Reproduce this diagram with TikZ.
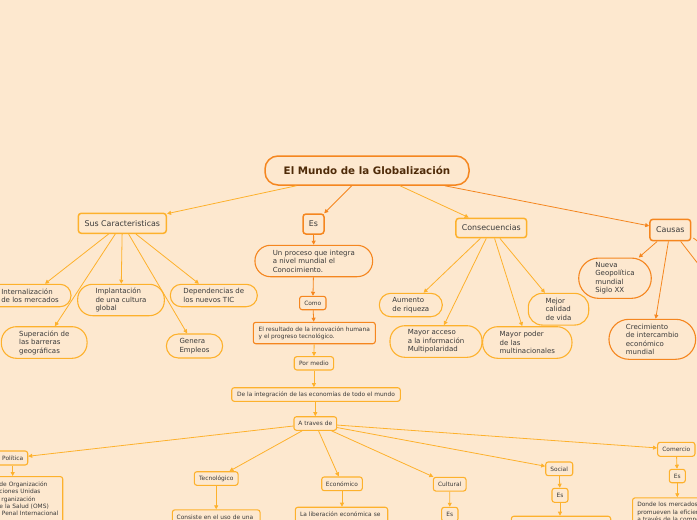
\documentclass[tikz,border=0pt]{standalone}
\usepackage{fontspec}
\setmainfont{DejaVu Sans}
\usetikzlibrary{arrows.meta,calc}
\definecolor{bg}{HTML}{FDE8CF}
\definecolor{amb}{HTML}{FDB12C}
\definecolor{dor}{HTML}{F5861F}
\definecolor{txt}{HTML}{3A3A3A}
\definecolor{ttl}{HTML}{4E2A08}
\begin{document}
\begin{tikzpicture}[x=1pt,y=-1pt,
  basebox/.style={draw, fill=bg, text=txt, inner sep=0pt, align=center},
  ttlbox/.style={basebox, draw=dor, line width=1.5pt, rounded corners=13pt, text=ttl,
    font=\bfseries\fontsize{10.3}{12}\selectfont},
  topbox/.style={basebox, draw=#1, line width=1.5pt, rounded corners=3pt,
    font=\fontsize{7.9}{9.5}\selectfont},
  pillbox/.style={basebox, draw=#1, line width=1.1pt, align=left,
    font=\fontsize{7}{8.5}\selectfont},
  smbox/.style={basebox, draw=#1, line width=1.1pt, rounded corners=2.5pt,
    font=\fontsize{5.9}{7.4}\selectfont},
  ea/.style={draw=amb, line width=0.8pt, -{Triangle[length=4pt,width=4pt]}},
  ed/.style={draw=dor, line width=0.8pt, -{Triangle[length=4pt,width=4pt]}}
]
\path[use as bounding box, fill=bg] (0,0) rectangle (697,520);

% title and first level
\node[ttlbox, minimum width=204, minimum height=29] (title) at (367,170.5) {El Mundo de la Globalización};
\node[topbox=amb, minimum width=88, minimum height=20] (sus) at (122.3,223.3) {Sus Caracteristicas};
\node[topbox=dor, minimum width=21, minimum height=20] (es) at (313.5,224) {Es};
\node[topbox=amb, minimum width=70.7, minimum height=19.4] (cons) at (491.3,228) {Consecuencias};
\node[topbox=dor, minimum width=40.7, minimum height=21.4] (causas) at (670.3,230) {Causas};

% Sus Caracteristicas children
\node[pillbox=amb, rounded corners=11pt, minimum width=82, minimum height=22.4] (int) at (30,295.5) {Internalización\\de los mercados};
\node[pillbox=amb, rounded corners=15pt, minimum width=86.7, minimum height=31.4] (impl) at (121,300) {Implantación\\de una cultura\\global};
\node[pillbox=amb, rounded corners=11pt, minimum width=87, minimum height=22.4] (dep) at (213.8,295.5) {Dependencias de\\los nuevos TIC};
\node[pillbox=amb, rounded corners=15pt, minimum width=85.7, minimum height=31.6] (sup) at (44.2,342.5) {Superación de\\las barreras\\geográficas};
\node[pillbox=amb, rounded corners=12pt, minimum width=56.3, minimum height=24] (gen) at (194.5,346) {Genera\\Empleos};

% Consecuencias children
\node[pillbox=amb, rounded corners=11.5pt, minimum width=63, minimum height=23.4] (aum) at (410.8,305) {Aumento\\de riqueza};
\node[pillbox=amb, rounded corners=14pt, minimum width=60.4, minimum height=31.7] (mej) at (558.5,309.2) {Mejor\\calidad\\de vida};
\node[pillbox=amb, rounded corners=15pt, minimum width=92, minimum height=31.6] (macc) at (436,341.5) {Mayor acceso\\a la información\\Multipolaridad};
\node[pillbox=amb, rounded corners=15pt, minimum width=89.3, minimum height=31.6] (mpod) at (527.3,342.5) {Mayor poder\\de las\\multinacionales};

% Causas children
\node[pillbox=dor, rounded corners=20pt, minimum width=72.6, minimum height=40.3] (nueva) at (615,278.2) {Nueva\\Geopolítica\\mundial\\Siglo XX};
\node[pillbox=dor, rounded corners=20pt, minimum width=86.7, minimum height=40] (crec) at (652.3,339.3) {Crecimiento\\de intercambio\\económico\\mundial};
\coordinate (c3) at (730,305);
\coordinate (c4) at (730,266);

% Es chain
\node[pillbox=dor, rounded corners=15.5pt, minimum width=117.7, minimum height=31.4] (unproc) at (313.8,261) {Un proceso que integra\\a nivel mundial el\\Conocimiento.};
\node[smbox=dor, minimum width=26.4, minimum height=13.4] (como) at (312.8,303) {Como};
\node[smbox=dor, minimum width=122, minimum height=21.4, align=left] (result) at (314.3,333) {El resultado de la innovación humana\\y el progreso tecnológico.};
\node[smbox=amb, minimum width=39.3, minimum height=13.3] (pormedio) at (313.9,363.3) {Por medio};
\node[smbox=amb, minimum width=168.6, minimum height=13.6] (integ) at (316,394.5) {De la integración de las economías de todo el mundo};
\node[smbox=amb, minimum width=42.7, minimum height=13.6] (atraves) at (315.3,423.5) {A traves de};

% A traves de children
\node[smbox=amb, minimum width=30, minimum height=14] (pol) at (12.7,458) {Política};
\node[smbox=amb, anchor=north east, text width=60.6, inner xsep=2.7pt, inner ysep=3.5pt, text height=6.2pt, text depth=40pt, align=left] (polbox) at (63.3,476)
  {de Organización\\ciones Unidas\\\hspace{2pt}rganización\\e la Salud (OMS)\\\hspace{2.5pt}Penal Internacional};
\node[smbox=amb, minimum width=43.7, minimum height=13.6] (tec) at (216.2,478.5) {Tecnológico};
\node[smbox=amb, anchor=north, text width=79, inner xsep=4.35pt, inner ysep=3.5pt, text height=6.3pt, text depth=20pt, align=left] (consiste) at (216.2,509.3) {Consiste en el uso de una};
\node[smbox=amb, minimum width=40.6, minimum height=13.7] (eco) at (342,483.8) {Económico};
\node[smbox=amb, anchor=north, text width=83, inner xsep=4.7pt, inner ysep=3pt, text height=5.8pt, text depth=20pt, align=left] (liber) at (341.5,506.7) {La liberación económica se};
\node[smbox=amb, minimum width=32.7, minimum height=13.7] (cult) at (449.7,484.2) {Cultural};
\node[smbox=amb, minimum width=16.3, minimum height=14] (escul) at (449.8,514.3) {Es};
\node[smbox=amb, minimum width=27, minimum height=13.7] (soc) at (559.2,468.8) {Social};
\node[smbox=amb, minimum width=16, minimum height=14] (essoc) at (560,495.3) {Es};
\node[smbox=amb, anchor=north, minimum width=99.4, minimum height=20] (socbox) at (561,515.7) {};
\node[smbox=amb, minimum width=37.3, minimum height=14] (com) at (676.3,449.3) {Comercio};
\node[smbox=amb, minimum width=16, minimum height=13.4] (escom) at (677.3,476) {Es};
\node[smbox=amb, anchor=north west, text width=90, inner xsep=4.7pt, inner ysep=3pt, text height=5.8pt, text depth=20pt, align=left] (donde) at (632,497.3)
  {Donde los mercados\\promueven la eficien\\a través de la compe};

% connectors
\draw[ea] (title) -- (sus);
\draw[ed] (title) -- (es);
\draw[ea] (title) -- (cons);
\draw[ed] (title) -- (causas);

\draw[ea] (sus) -- (int);
\draw[ea] (sus) -- (sup);
\draw[ea] (sus) -- (impl);
\draw[ea] (sus) -- (gen);
\draw[ea] (sus) -- (dep);

\draw[ea] (cons) -- (aum);
\draw[ea] (cons) -- (macc);
\draw[ea] (cons) -- (mpod);
\draw[ea] (cons) -- (mej);

\draw[ed] (causas) -- (nueva);
\draw[ed] (causas) -- (crec);
\draw[ed] ($(causas.south)+(10.4,0)$) -- (c3);
\draw[ed] ($(causas.east)+(2,8)$) -- (c4);

\draw[ed] (es) -- (unproc);
\draw[ed] (unproc) -- (como);
\draw[ed] (como) -- (result);
\draw[ea] (result) -- (pormedio);
\draw[ea] (pormedio.south) -- (pormedio.south |- integ.north);
\draw[ea] (integ.south -| atraves.north) -- (atraves.north);

\draw[ea] (atraves) -- (pol);
\draw[ea] (atraves) -- (tec);
\draw[ea] (atraves) -- (eco);
\draw[ea] (atraves) -- (cult);
\draw[ea] (atraves) -- (soc);
\draw[ea] (atraves) -- (com);

\draw[ea] (pol.south) -- (pol.south |- polbox.north);
\draw[ea] (tec.south) -- (tec.south |- consiste.north);
\draw[ea] (eco.south) -- (eco.south |- liber.north);
\draw[ea] (cult) -- (escul);
\draw[ea] (soc) -- (essoc);
\draw[ea] (essoc.south) -- (essoc.south |- socbox.north);
\draw[ea] (com) -- (escom);
\draw[ea] (escom.south) -- (escom.south |- donde.north);
\end{tikzpicture}
\end{document}
